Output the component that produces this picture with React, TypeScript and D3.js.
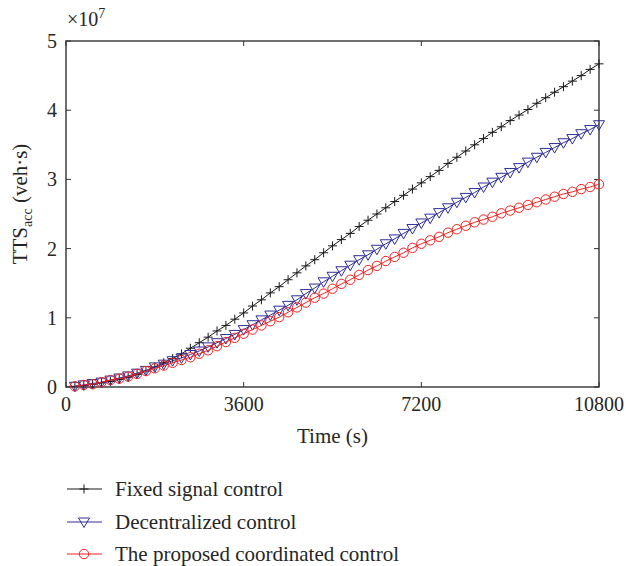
import * as d3 from 'd3';

const width = 626;
const height = 566;
const margin = { left: 66, top: 41, right: 27, bottom: 179 };

// sampling instants (s)
const times = [
  180, 360, 540, 720, 900, 1080, 1260, 1440, 1620, 1800,
  1980, 2160, 2340, 2520, 2700, 2880, 3060, 3240, 3420, 3600,
  3780, 3960, 4140, 4320, 4500, 4680, 4860, 5040, 5220, 5400,
  5580, 5760, 5940, 6120, 6300, 6480, 6660, 6840, 7020, 7200,
  7380, 7560, 7740, 7920, 8100, 8280, 8460, 8640, 8820, 9000,
  9180, 9360, 9540, 9720, 9900, 10080, 10260, 10440, 10620, 10800,
];

// accumulated TTS, in units of 1e7 veh·s
const fixedSignal = [
  0.01, 0.02, 0.04, 0.06, 0.08, 0.11, 0.14, 0.18, 0.23, 0.29,
  0.35, 0.41, 0.48, 0.56, 0.64, 0.72, 0.81, 0.89, 0.98, 1.07,
  1.17, 1.26, 1.36, 1.45, 1.55, 1.65, 1.75, 1.84, 1.94, 2.04,
  2.13, 2.22, 2.32, 2.41, 2.5, 2.59, 2.68, 2.77, 2.86, 2.95,
  3.04, 3.13, 3.23, 3.32, 3.41, 3.5, 3.59, 3.68, 3.76, 3.85,
  3.93, 4.01, 4.1, 4.18, 4.26, 4.34, 4.42, 4.5, 4.59, 4.67,
];
const decentralized = [
  0.01, 0.03, 0.05, 0.07, 0.1, 0.13, 0.16, 0.2, 0.24, 0.29,
  0.33, 0.38, 0.42, 0.47, 0.52, 0.58, 0.64, 0.7, 0.76, 0.83,
  0.9, 0.97, 1.04, 1.11, 1.18, 1.26, 1.35, 1.43, 1.52, 1.6,
  1.68, 1.76, 1.84, 1.91, 1.99, 2.07, 2.14, 2.22, 2.29, 2.37,
  2.44, 2.52, 2.59, 2.67, 2.74, 2.81, 2.89, 2.96, 3.03, 3.1,
  3.17, 3.25, 3.32, 3.39, 3.46, 3.53, 3.59, 3.66, 3.72, 3.79,
];
const coordinated = [
  0.01, 0.03, 0.04, 0.07, 0.1, 0.12, 0.15, 0.19, 0.23, 0.27,
  0.31, 0.35, 0.39, 0.43, 0.48, 0.53, 0.59, 0.65, 0.71, 0.77,
  0.83, 0.89, 0.95, 1.01, 1.08, 1.15, 1.22, 1.29, 1.35, 1.42,
  1.49, 1.55, 1.62, 1.69, 1.75, 1.82, 1.88, 1.94, 2.01, 2.07,
  2.12, 2.17, 2.23, 2.28, 2.33, 2.38, 2.42, 2.46, 2.51, 2.55,
  2.59, 2.63, 2.67, 2.71, 2.75, 2.79, 2.82, 2.86, 2.89, 2.93,
];

const xTicks = [0, 3600, 7200, 10800];
const yTicks = [0, 1, 2, 3, 4, 5];

const seriesNames = ['Fixed signal control', 'Decentralized control', 'The proposed coordinated control'];
const seriesColors = ['#1a1a1a', '#2e2e98', '#f42020'];
const seriesMarkers = ['plus', 'triangle', 'circle'];
const seriesValues = [fixedSignal, decentralized, coordinated];

const font = '"Liberation Serif", "Times New Roman", serif';

function Marker({ kind, x, y, color }: { kind: string; x: number; y: number; color: string }) {
  if (kind === 'plus') {
    return <path d={`M${x - 4.5},${y}H${x + 4.5}M${x},${y - 4.5}V${y + 4.5}`} stroke={color} strokeWidth={1} fill="none" />;
  }
  if (kind === 'triangle') {
    return <path d={`M${x - 5.5},${y - 4}L${x + 5.5},${y - 4}L${x},${y + 5.5}Z`} stroke={color} strokeWidth={1} fill="none" />;
  }
  return <circle cx={x} cy={y} r={4.7} stroke={color} strokeWidth={1} fill="none" />;
}

export default function App() {
  const x = d3.scaleLinear().domain([0, 10800]).range([margin.left, width - margin.right]);
  const y = d3.scaleLinear().domain([0, 5]).range([height - margin.bottom, margin.top]);
  const line = d3
    .line<number>()
    .x((_, i) => x(times[i]))
    .y((d) => y(d));

  const x0 = x.range()[0];
  const x1 = x.range()[1];
  const y0 = y.range()[0];
  const y1 = y.range()[1];
  const axisColor = '#333';
  const tickLen = 5;
  const textColor = '#262626';

  const legendY = [489, 522, 554];

  return (
    <svg width={width} height={height} style={{ position: 'absolute', left: 0, top: 0 }} fontFamily={font}>
      <rect width={width} height={height} fill="#fff" />

      {/* frame */}
      <rect x={x0} y={y1} width={x1 - x0} height={y0 - y1} fill="none" stroke={axisColor} strokeWidth={1.4} />

      {xTicks.map((t) => (
        <g key={'x' + t}>
          <line x1={x(t)} x2={x(t)} y1={y0} y2={y0 - tickLen} stroke={axisColor} />
          <line x1={x(t)} x2={x(t)} y1={y1} y2={y1 + tickLen} stroke={axisColor} />
          <text x={x(t)} y={y0 + 24} textAnchor="middle" fontSize={20} fill={textColor}>
            {t}
          </text>
        </g>
      ))}
      {yTicks.map((t) => (
        <g key={'y' + t}>
          <line x1={x0} x2={x0 + tickLen} y1={y(t)} y2={y(t)} stroke={axisColor} />
          <line x1={x1} x2={x1 - tickLen} y1={y(t)} y2={y(t)} stroke={axisColor} />
          <text x={x0 - 9} y={y(t) + 7} textAnchor="end" fontSize={20} fill={textColor}>
            {t}
          </text>
        </g>
      ))}

      <text x={67} y={26} fontSize={20} fill={textColor}>
        ×10<tspan dy={-8} fontSize={14}>7</tspan>
      </text>

      <text x={(x0 + x1) / 2} y={443} textAnchor="middle" fontSize={21} fill={textColor}>
        Time (s)
      </text>

      <text transform={`translate(27,${(y0 + y1) / 2 - 10}) rotate(-90)`} textAnchor="middle" fontSize={21} fill={textColor}>
        TTS<tspan dy={5} fontSize={14}>acc</tspan>
        <tspan dy={-5}> (veh·s)</tspan>
      </text>

      {seriesValues.map((vals, s) => (
        <g key={'s' + s}>
          <path d={line(vals) ?? ''} fill="none" stroke={seriesColors[s]} strokeWidth={1} />
          {vals.map((v, i) => (
            <Marker key={i} kind={seriesMarkers[s]} x={x(times[i])} y={y(v)} color={seriesColors[s]} />
          ))}
        </g>
      ))}

      {seriesNames.map((name, s) => (
        <g key={'l' + s}>
          <line x1={67} x2={102} y1={legendY[s]} y2={legendY[s]} stroke={seriesColors[s]} strokeWidth={1} />
          <Marker kind={seriesMarkers[s]} x={84} y={legendY[s]} color={seriesColors[s]} />
          <text x={115} y={legendY[s] + 7} fontSize={21} fill={textColor}>
            {name}
          </text>
        </g>
      ))}
    </svg>
  );
}
